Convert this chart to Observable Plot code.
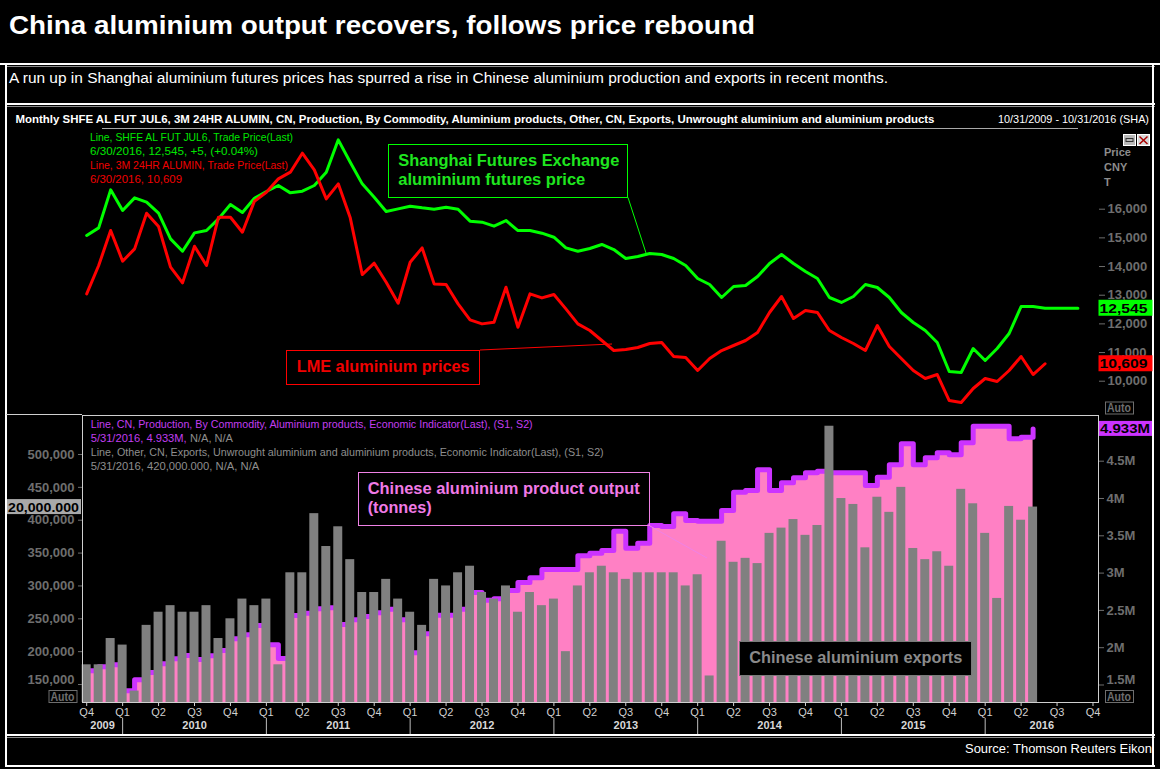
<!DOCTYPE html>
<html><head><meta charset="utf-8">
<script src="https://cdn.jsdelivr.net/npm/d3@7"></script>
<script src="https://cdn.jsdelivr.net/npm/@observablehq/plot@0.6"></script>
<style>
body{margin:0;background:#000;}
#root{position:relative;width:1160px;height:769px;background:#000;overflow:hidden;font-family:"Liberation Sans",Arial,sans-serif;}
</style></head><body><div id="root"></div>
<script>
// ---------------- DATA ----------------
const startMonth = "2009-10"; // index 0 = Oct 2009 (monthly)
// SHFE aluminium futures (CNY/t), Oct 2009 .. Jun 2016
const shfe = [15082, 15349, 16675, 15954, 16396, 16245, 15861, 14965, 14535, 15175,
 15256, 15663, 16163, 15884, 16384, 16617, 16826, 16570, 16628, 16826,
 17291, 18419, 17640, 16884, 16419, 15919, 16012, 16105, 16047, 16000,
 16070, 16000, 15582, 15547, 15407, 15605, 15256, 15256, 15163, 15023,
 14651, 14535, 14629, 14769, 14594, 14280, 14350, 14455, 14420, 14280,
 14036, 13583, 13373, 12920, 13304, 13339, 13653, 14106, 14420, 14106,
 13827, 13583, 12920, 12746, 12955, 13373, 13269, 12920, 12397, 12048,
 11769, 11350, 10339, 10304, 11141, 10723, 11141, 11664, 12606, 12606,
 12545];
const shfeLatest = {date: "2016-08-24", value: 12545};
// LME 3M aluminium (CNY/t)
const lme = [13046, 14035, 15256, 14186, 14616, 15861, 15396, 13977, 13430, 14709,
 14035, 15721, 15721, 15198, 16279, 16593, 17059, 17291, 17954, 17373,
 16361, 16884, 15698, 13721, 14116, 13453, 12721, 14151, 14651, 13395,
 13372, 12697, 12139, 12000, 12058, 13279, 11884, 13046, 12907, 13023,
 12523, 12000, 11769, 11420, 11071, 11106, 11176, 11316, 11350, 10862,
 10827, 10374, 10792, 11071, 11246, 11420, 11699, 12397, 12955, 12187,
 12467, 12397, 11769, 11525, 11316, 11071, 11943, 11211, 10792, 10374,
 10095, 10234, 9327, 9258, 9746, 10095, 9990, 10374, 10862, 10234,
 10609];
// China aluminium products output (million tonnes), Oct 2009 .. May 2016
const production = [1.690, 1.744, 1.771, 1.422, 1.570, 1.668, 1.784, 1.851, 1.896, 1.842,
 1.891, 1.962, 2.119, 2.173, 2.298, 2.039, 1.855, 2.432, 2.463, 2.521,
 2.535, 2.311, 2.374, 2.418, 2.468, 2.516, 2.374, 1.932, 2.186, 2.436,
 2.436, 2.516, 2.740, 2.637, 2.655, 2.767, 2.874, 2.937, 3.048, 3.048,
 3.048, 3.232, 3.267, 3.303, 3.562, 3.334, 3.401, 3.638, 3.625, 3.795,
 3.705, 3.696, 3.696, 3.839, 4.084, 4.107, 4.385, 4.107, 4.210, 4.277,
 4.344, 4.366, 4.344, 4.344, 4.344, 4.174, 4.286, 4.452, 4.733, 4.452,
 4.546, 4.613, 4.586, 4.747, 4.969, 4.969, 4.969, 4.800, 4.822, 4.933];
// China exports of unwrought aluminium & products (tonnes)
const exportsT = [180000, 180000, 220000, 210000, 140000, 240000, 260000, 270000, 260000, 260000,
 270000, 220000, 250000, 280000, 270000, 280000, 180000, 320000, 320000, 410000,
 360000, 390000, 340000, 290000, 290000, 310000, 280000, 260000, 240000, 310000,
 300000, 320000, 330000, 290000, 280000, 300000, 260000, 290000, 270000, 280000,
 200000, 300000, 320000, 330000, 320000, 310000, 320000, 320000, 320000, 320000,
 300000, 317000, 163000, 368000, 336000, 342000, 334000, 380000, 388000, 401000,
 377000, 392000, 543000, 433000, 424000, 358000, 435000, 412000, 450000, 357000,
 340000, 352000, 330000, 447000, 425000, 380000, 281000, 421000, 400000, 420000];

const priceTicks = [10000, 11000, 12000, 13000, 14000, 15000, 16000];
const exportTicks = [150000, 200000, 250000, 300000, 350000, 400000, 450000, 500000];
const prodTicks = [1.5, 2, 2.5, 3, 3.5, 4, 4.5];
const years = ["2009", "2010", "2011", "2012", "2013", "2014", "2015", "2016"];

// ---------------- HELPERS ----------------
const [sy, sm] = startMonth.split("-").map(Number);
function monthIndex(dateStr) {
  const d = new Date(dateStr + "T00:00:00");
  const dim = new Date(d.getFullYear(), d.getMonth() + 1, 0).getDate();
  return (d.getFullYear() - sy) * 12 + (d.getMonth() + 1 - sm) + (d.getDate() - 1) / dim;
}
const calMonth = i => (sm - 1 + i) % 12; // 0 = Jan
const xDomain = [-0.35, 84.46];
const W = 1160;
const FONT = "Liberation Sans, Arial, sans-serif";
const AXIS_GRAY = "#6e6e6e";

const shfeData = shfe.map((v, i) => ({i, v}));
shfeData.push({i: monthIndex(shfeLatest.date), v: shfeLatest.value});
const lmeData = lme.map((v, i) => ({i, v}));

// bottom panel: exports on left axis; production mapped onto the same vertical range (right axis)
const eDom = [122640, 559340];
const pDom = [1.2654, 5.1126];
const toE = p => eDom[0] + (p - pDom[0]) / (pDom[1] - pDom[0]) * (eDom[1] - eDom[0]);
const fromE = e => pDom[0] + (e - eDom[0]) / (eDom[1] - eDom[0]) * (pDom[1] - pDom[0]);
const prodData = production.map((p, i) => ({i, p, e: toE(p)}));
const expData = exportsT.map((v, i) => ({i, v}));
const fmtM = e => `${+fromE(e).toFixed(1)}M`;

const quarterTicks = d3.range(0, 85).filter(i => calMonth(i) % 3 === 0);
const yearStarts = d3.range(0, 85).filter(i => calMonth(i) === 0);
const yearBounds = [xDomain[0], ...yearStarts, xDomain[1]];
const yearData = years.map((y, k) => ({y, c: (yearBounds[k] + yearBounds[k + 1]) / 2}));

const lowE = exportTicks[0], lowP = toE(prodTicks[0]);
const axisFont = {fontSize: 13, fontWeight: "bold"};

// ---------------- TOP PANEL ----------------
const topChart = Plot.plot({
  width: W, height: 295, marginLeft: 82, marginRight: 62, marginTop: 5, marginBottom: 7,
  style: {background: "transparent", fontFamily: FONT, overflow: "visible"},
  x: {domain: xDomain, axis: null},
  y: {domain: [8874, 18745], axis: null},
  marks: [
    Plot.axisY(priceTicks, {anchor: "right", tickSize: 6, tickPadding: 3, tickFormat: d3.format(","),
      color: AXIS_GRAY, ...axisFont, label: null}),
    Plot.line(shfeData, {x: "i", y: "v", stroke: "#00ff00", strokeWidth: 3, clip: true}),
    Plot.line(lmeData, {x: "i", y: "v", stroke: "#ff0000", strokeWidth: 3, clip: true})
  ]
});

// ---------------- BOTTOM PANEL ----------------
const bottomChart = Plot.plot({
  width: W, height: 330, marginLeft: 82, marginRight: 62, marginTop: 5, marginBottom: 38,
  style: {background: "transparent", fontFamily: FONT, overflow: "visible"},
  x: {domain: xDomain, axis: null},
  y: {domain: eDom, axis: null},
  marks: [
    Plot.areaY(prodData, {x: "i", y1: () => eDom[0], y2: "e", curve: "step-after", fill: "#ff80c4"}),
    Plot.line(prodData, {x: "i", y: "e", curve: "step-after", stroke: "#cc33ff", strokeWidth: 5}),
    Plot.rectY(expData, {x1: d => d.i - 0.375, x2: d => d.i + 0.375, y1: () => eDom[0], y2: "v", fill: "#808080"}),
    Plot.frame({stroke: "#cfcfcf"}),
    // left axis (exports); lowest label lifted clear of the "Auto" box
    Plot.axisY(exportTicks, {anchor: "left", tickSize: 4, tickPadding: 4,
      tickFormat: d => d === lowE ? "" : d3.format(",")(d), color: AXIS_GRAY, ...axisFont, label: null}),
    Plot.text([lowE], {y: d => d, frameAnchor: "left", dx: -8, dy: -5, textAnchor: "end",
      text: d => d3.format(",")(d), fill: AXIS_GRAY, ...axisFont}),
    // right axis (production)
    Plot.axisY(prodTicks.map(toE), {anchor: "right", tickSize: 5, tickPadding: 3,
      tickFormat: d => Math.abs(d - lowP) < 1 ? "" : fmtM(d), color: AXIS_GRAY, ...axisFont, label: null}),
    Plot.text([lowP], {y: d => d, frameAnchor: "right", dx: 8, dy: -5, textAnchor: "start",
      text: d => fmtM(d), fill: AXIS_GRAY, ...axisFont}),
    // time axis
    Plot.axisX(quarterTicks, {anchor: "bottom", tickSize: 4, tickPadding: 2,
      tickFormat: i => "Q" + (Math.floor(calMonth(i) / 3) + 1), color: "#cfcfcf", fontSize: 11, label: null}),
    Plot.ruleX(yearStarts, {x: d => d, insetTop: 303, insetBottom: -33, stroke: "#bdbdbd"}),
    Plot.text(yearData, {x: "c", text: "y", frameAnchor: "bottom", dy: 26, fill: "#d8d8d8",
      fontWeight: "bold", fontSize: 11})
  ]
});

const root = document.getElementById("root");
function place(el, top) {
  el.style.position = "absolute"; el.style.left = "0px"; el.style.top = top + "px";
  root.appendChild(el);
}
const TOP0 = 125, BOT0 = 410;
place(bottomChart, BOT0);
place(topChart, TOP0);

function scaleFn(chart) {
  const s = chart.scale("y");
  return s.apply ? (v => s.apply(v)) : d3.scaleLinear(s.domain, s.range);
}
const yTop = scaleFn(topChart), yBot = scaleFn(bottomChart);

// ---------------- OVERLAY (frame, titles, legends, annotations, badges) ----------------
function T(x, y, txt, o = {}) {
  const {size = 11, weight = "normal", fill = "#fff", len = null, anchor = "start"} = o;
  return `<text x="${x}" y="${y}" font-size="${size}" font-weight="${weight}" fill="${fill}" dominant-baseline="central" text-anchor="${anchor}"${len ? ` textLength="${len}" lengthAdjust="spacingAndGlyphs"` : ""}>${txt}</text>`;
}
function L(x1, y1, x2, y2, stroke, w = 1) {
  return `<line x1="${x1}" y1="${y1}" x2="${x2}" y2="${y2}" stroke="${stroke}" stroke-width="${w}"/>`;
}
function R(x, y, w, h, fill, stroke = "none") {
  return `<rect x="${x}" y="${y}" width="${w}" height="${h}" fill="${fill}" stroke="${stroke}"/>`;
}
function badge(x, yc, w, h, bg, txt, len) {
  return R(x, yc - h / 2, w, h, bg) + T(x + 1, yc + 0.5, txt, {size: 13, weight: "bold", fill: "#000", len});
}

const green = "#00e600", red = "#f00000", purple = "#c23ef0", grayT = "#8e8e8e";
const ySh = TOP0 + yTop(shfe[shfe.length - 1]);
const yLm = TOP0 + yTop(lme[lme.length - 1]);
const yPr = BOT0 + yBot(toE(production[production.length - 1]));
const yEx = BOT0 + yBot(exportsT[exportsT.length - 1]);

let s = "";
// frame lines
s += L(0, 64, 1160, 64, "#ffffff", 2) + L(5, 66.5, 1155, 66.5, "#8a8a8a", 1);
s += L(5, 104, 1155, 104, "#ffffff", 2) + L(5, 106.5, 1155, 106.5, "#8a8a8a", 1);
s += L(5, 735, 1155, 735, "#ffffff", 2) + L(5, 737.5, 1155, 737.5, "#8a8a8a", 1);
s += L(5, 766, 1155, 766, "#ffffff", 2);
s += L(6, 64, 6, 767, "#ffffff", 2) + L(1153, 64, 1153, 767, "#ffffff", 2);
s += L(102, 128.5, 1078, 128.5, "#a8a8a8", 1);
s += L(6, 414.5, 82, 414.5, "#cfcfcf", 1);
// titles
s += T(9, 25, "China aluminium output recovers, follows price rebound", {size: 26, weight: "bold", len: 746});
s += T(9, 78, "A run up in Shanghai aluminium futures prices has spurred a rise in Chinese aluminium production and exports in recent months.", {size: 14, len: 879});
s += T(15.5, 118.5, "Monthly SHFE AL FUT JUL6, 3M 24HR ALUMIN, CN, Production, By Commodity, Aluminium products, Other, CN, Exports, Unwrought aluminium and aluminium products", {size: 11, weight: "bold", len: 919});
s += T(998, 118.5, "10/31/2009 - 10/31/2016 (SHA)", {size: 11, len: 151});
s += T(1152, 748, "Source: Thomson Reuters Eikon", {size: 13, anchor: "end", len: 187});
// icons
s += R(1123.5, 134.5, 12, 11, "#b8b8b8", "#ffffff") + R(1126, 138.5, 7, 3, "none", "#333");
s += R(1137.5, 134.5, 12, 11, "#d8d8d8", "#ffffff") + L(1139.5, 136.5, 1147.5, 144, "#a00", 1.5) + L(1147.5, 136.5, 1139.5, 144, "#a00", 1.5);
// right axis caption (top)
s += T(1104, 152, "Price", {size: 11, weight: "bold", fill: "#8c8c8c"});
s += T(1104, 167, "CNY", {size: 11, weight: "bold", fill: "#8c8c8c"});
s += T(1104, 182, "T", {size: 11, weight: "bold", fill: "#8c8c8c"});
// legends top
s += T(90, 136.5, "Line, SHFE AL FUT JUL6, Trade Price(Last)", {fill: green, len: 203});
s += T(90, 151, "6/30/2016, 12,545, +5, (+0.04%)", {fill: green, len: 168});
s += T(90, 165, "Line, 3M 24HR ALUMIN, Trade Price(Last)", {fill: red, len: 198});
s += T(90, 179, "6/30/2016, 10,609", {fill: red, len: 92});
// legends bottom
s += T(90.7, 424.3, "Line, CN, Production, By Commodity, Aluminium products, Economic Indicator(Last), (S1, S2)", {fill: purple, len: 442});
s += T(90.7, 438.3, "5/31/2016, 4.933M,", {fill: purple, len: 96});
s += T(190, 438.3, "N/A, N/A", {fill: grayT, len: 43});
s += T(90.7, 452.3, "Line, Other, CN, Exports, Unwrought aluminium and aluminium products, Economic Indicator(Last), (S1, S2)", {fill: grayT, len: 513});
s += T(90.7, 466, "5/31/2016, 420,000.000, N/A, N/A", {fill: grayT, len: 168.6});
// annotation boxes
s += R(388.5, 144.5, 239, 53, "none", "#00ff00");
s += T(398.3, 160.7, "Shanghai Futures Exchange", {size: 16, weight: "bold", fill: "#1fe61f", len: 221});
s += T(398.3, 179, "aluminium futures price", {size: 16, weight: "bold", fill: "#1fe61f", len: 187});
s += L(628, 197.5, 646, 253, "#00ff00", 1);
s += R(286.5, 350.5, 193, 34, "none", "#ff0000");
s += T(296.7, 366.5, "LME aluminium prices", {size: 16, weight: "bold", fill: "#f00000", len: 173});
s += L(480, 350, 612, 344, "#ff0000", 1);
s += R(358.5, 472.5, 291, 53, "none", "#f082e6");
s += T(367.7, 488.5, "Chinese aluminium product output", {size: 16, weight: "bold", fill: "#f07ae6", len: 272});
s += T(367.7, 507.3, "(tonnes)", {size: 16, weight: "bold", fill: "#f07ae6", len: 64});
s += L(650, 526, 707, 558, "#f082e6", 1);
s += R(739.5, 641.5, 232, 34, "#000", "#7a7a7a");
s += T(749.3, 657.5, "Chinese aluminium exports", {size: 16, weight: "bold", fill: "#8a8a8a", len: 213});
// badges
s += badge(1098.5, ySh, 54, 16, "#00ff00", "12,545", 48);
s += badge(1098.5, yLm, 54, 16, "#ff0000", "10,609", 48);
s += badge(1099, yPr, 53, 15, "#cc33ff", "4.933M", 50);
s += badge(7, yEx, 74, 15, "#a9a9a9", "20,000.000", 71);
// Auto boxes
function auto(x, y) { return R(x + 0.5, y + 0.5, 28, 12, "none", "#6e6e6e") + T(x + 2, y + 6.8, "Auto", {size: 12, weight: "bold", fill: "#6e6e6e", len: 24}); }
s += auto(1105, 401.5) + auto(1105, 690) + auto(48.5, 690);

const ov = document.createElementNS("http://www.w3.org/2000/svg", "svg");
ov.setAttribute("width", 1160); ov.setAttribute("height", 769);
ov.setAttribute("font-family", FONT);
ov.style.pointerEvents = "none";
ov.innerHTML = s;
place(ov, 0);
</script></body></html>
